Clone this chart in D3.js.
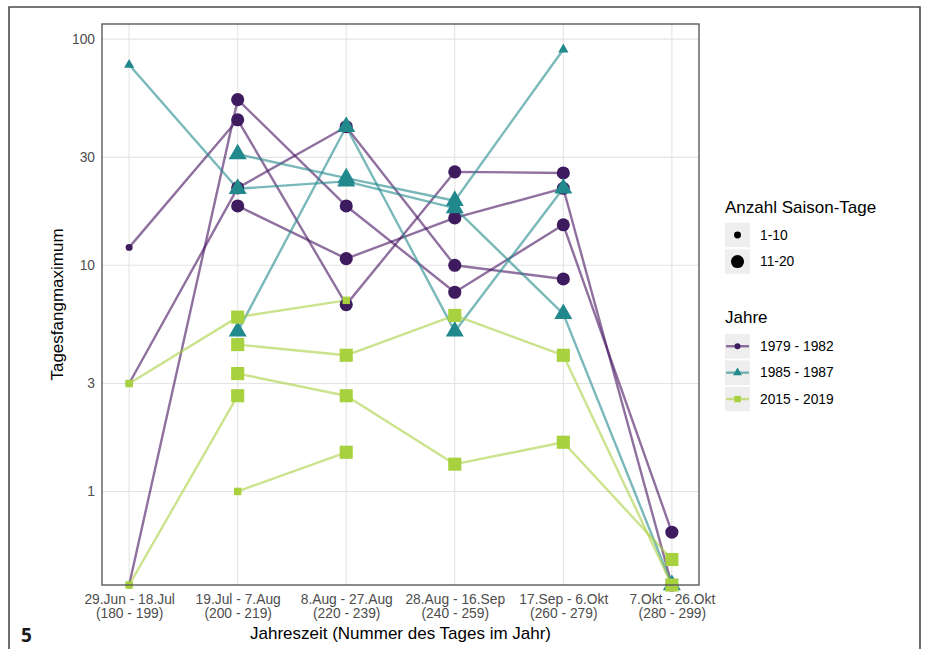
<!DOCTYPE html>
<html>
<head>
<meta charset="utf-8">
<script src="https://cdn.jsdelivr.net/npm/d3@7"></script>
<style>
  html, body { margin: 0; padding: 0; background: #ffffff; }
  svg { display: block; font-family: "Liberation Sans", Arial, sans-serif; }
</style>
</head>
<body>
<svg id="chart" width="929" height="649"></svg>
<script>
// ---------------- data ----------------
const xLabelsTop = ["29.Jun - 18.Jul", "19.Jul - 7.Aug", "8.Aug - 27.Aug", "28.Aug - 16.Sep", "17.Sep - 6.Okt", "7.Okt - 26.Okt"];
const xLabelsBottom = ["(180 - 199)", "(200 - 219)", "(220 - 239)", "(240 - 259)", "(260 - 279)", "(280 - 299)"];
const dayStart = [180, 200, 220, 240, 260, 280];
const yTicks = [1, 3, 10, 30, 100];
const groupNames = ["1979 - 1982", "1985 - 1987", "2015 - 2019"];
const sizeNames = ["1-10", "11-20"];

// values per season window (null = no data); 0 = drawn at panel bottom
// sizes: 1 = "1-10" season days, 2 = "11-20" season days
const purple1 = [0, 54, 18.3, 7.6, 15.1, 0.66];
const purple1Size = [1, 2, 2, 2, 2, 2];
const purple2 = [12, 44, 6.7, 25.9, 25.6, null];
const purple2Size = [1, 2, 2, 2, 2, null];
const purple3 = [3, 22, 41, 10, 8.7, null];
const purple3Size = [1, 2, 2, 2, 2, null];
const purple4 = [null, 18.3, 10.7, 16.2, 21.9, 0];
const purple4Size = [null, 2, 2, 2, 2, 2];

const teal1 = [77, 21.8, 23.5, 17.9, 6.1, 0];
const teal1Size = [1, 2, 2, 2, 2, 2];
const teal2 = [null, 31, 24.3, 19.3, 90, null];
const teal2Size = [null, 2, 2, 2, 1, null];
const teal3 = [null, 5.1, 41, 5.1, 21.9, null];
const teal3Size = [null, 2, 2, 2, 2, null];

const green1 = [3, 5.9, 7.0, null, null, null];
const green1Size = [1, 2, 1, null, null, null];
const green2 = [null, 4.46, 4.0, 6.0, 4.0, 0];
const green2Size = [null, 2, 2, 2, 2, 2];
const green3 = [null, 3.32, 2.65, 1.32, 1.65, 0.5];
const green3Size = [null, 2, 2, 2, 2, 2];
const green4 = [0, 2.65, null, null, null, null];
const green4Size = [1, 2, null, null, null, null];
const green5 = [null, 1.0, 1.49, null, null, null];
const green5Size = [null, 1, 2, null, null, null];

const groupColors = ["#3e1a5e", "#21888C", "#A8D13F"];
const lineColors = ["#45105f", "#21888C", "#A8D13F"];
const groupShapes = [d3.symbolCircle, d3.symbolTriangle, d3.symbolSquare];

const series = [
  {g: 0, v: purple1, s: purple1Size}, {g: 0, v: purple2, s: purple2Size},
  {g: 0, v: purple3, s: purple3Size}, {g: 0, v: purple4, s: purple4Size},
  {g: 1, v: teal1, s: teal1Size}, {g: 1, v: teal2, s: teal2Size}, {g: 1, v: teal3, s: teal3Size},
  {g: 2, v: green1, s: green1Size}, {g: 2, v: green2, s: green2Size}, {g: 2, v: green3, s: green3Size},
  {g: 2, v: green4, s: green4Size}, {g: 2, v: green5, s: green5Size}
];

// ---------------- layout ----------------
const svg = d3.select("#chart");
const W = 929, H = 649;
const panel = {left: 102, right: 699, top: 24, bottom: 585};

// outer frame
svg.append("path")
  .attr("d", `M9,${H} V7 H920 V${H}`)
  .attr("fill", "none").attr("stroke", "#4a4a4a").attr("stroke-width", 1.6);

// scales
const x = d3.scaleLinear()
  .domain([dayStart[0] - 0.05 * (dayStart[5] - dayStart[0]), dayStart[5] + 0.05 * (dayStart[5] - dayStart[0])])
  .range([panel.left, panel.right]);

const positives = series.flatMap(d => d.v).filter(v => v != null && v > 0);
const lo = Math.log10(d3.min(positives)), hi = Math.log10(d3.max(positives));
const pad = (hi - lo) * 0.05;
const y = d3.scaleLog()
  .domain([Math.pow(10, lo - pad), Math.pow(10, hi + pad)])
  .range([panel.bottom, panel.top])
  .clamp(true);
const yPos = v => v <= 0 ? y.range()[0] : y(v);

// grid
const grid = svg.append("g");
grid.selectAll("line.h").data(yTicks).join("line")
  .attr("x1", panel.left).attr("x2", panel.right)
  .attr("y1", d => y(d)).attr("y2", d => y(d))
  .attr("stroke", "#e4e4e4").attr("stroke-width", 1.1);
grid.selectAll("line.v").data(dayStart).join("line")
  .attr("x1", d => x(d)).attr("x2", d => x(d))
  .attr("y1", panel.top).attr("y2", panel.bottom)
  .attr("stroke", "#e4e4e4").attr("stroke-width", 1.1);

// axes (labels only, via d3 axis)
const yAxis = svg.append("g").attr("transform", `translate(${panel.left},0)`)
  .call(d3.axisLeft(y).tickValues(yTicks).tickFormat(d3.format("d")).tickSize(0).tickPadding(7));
yAxis.select(".domain").remove();
yAxis.selectAll("text").attr("fill", "#4d4d4d").style("font-size", "13.8px")
  .style("font-family", "'Liberation Sans', Arial, sans-serif");

const xAxis = svg.append("g").attr("transform", `translate(0,${panel.bottom})`)
  .call(d3.axisBottom(x).tickValues(dayStart).tickFormat("").tickSize(0));
xAxis.select(".domain").remove();
xAxis.selectAll(".tick").each(function(d, i) {
  const t = d3.select(this).append("text")
    .attr("fill", "#4d4d4d").attr("text-anchor", "middle")
    .style("font-size", "13.8px").style("font-family", "'Liberation Sans', Arial, sans-serif");
  t.append("tspan").attr("x", 0).attr("y", 19).text(xLabelsTop[i]);
  t.append("tspan").attr("x", 0).attr("y", 33).text(xLabelsBottom[i]);
});

// axis titles
svg.append("text")
  .attr("transform", `translate(63,${(panel.top + panel.bottom) / 2}) rotate(-90)`)
  .attr("text-anchor", "middle").attr("fill", "#000")
  .style("font-size", "17px").text("Tagesfangmaximum");
svg.append("text")
  .attr("x", (panel.left + panel.right) / 2).attr("y", 639)
  .attr("text-anchor", "middle").attr("fill", "#000")
  .style("font-size", "17px").text("Jahreszeit (Nummer des Tages im Jahr)");

// figure number
svg.append("text").attr("x", 21).attr("y", 642)
  .style("font-size", "19px").style("font-weight", "bold").attr("fill", "#1a1a1a")
  .style("font-family", "'Open Sans', 'Liberation Sans', Arial, sans-serif")
  .text("5");

const plot = svg.append("g");

// lines
const line = d3.line()
  .defined(d => d.v != null)
  .x(d => x(d.day))
  .y(d => yPos(d.v));
series.forEach(sr => {
  const pts = sr.v.map((v, i) => ({v, day: dayStart[i]}));
  plot.append("path").datum(pts)
    .attr("d", line)
    .attr("fill", "none")
    .attr("stroke", lineColors[sr.g])
    .attr("stroke-opacity", 0.6)
    .attr("stroke-width", 2.4)
    .attr("stroke-linejoin", "round");
});

// marker sizes (symbol area) per group & size class
const symbolArea = [
  {1: 38, 2: 135},   // circles
  {1: 45, 2: 140},   // triangles
  {1: 56, 2: 172}    // squares
];

series.forEach(sr => {
  sr.v.forEach((v, i) => {
    if (v == null) return;
    plot.append("path")
      .attr("d", d3.symbol().type(groupShapes[sr.g]).size(symbolArea[sr.g][sr.s[i]])())
      .attr("transform", `translate(${x(dayStart[i])},${yPos(v)})`)
      .attr("fill", groupColors[sr.g]);
  });
});

// panel border
svg.append("rect")
  .attr("x", panel.left).attr("y", panel.top)
  .attr("width", panel.right - panel.left).attr("height", panel.bottom - panel.top)
  .attr("fill", "none").attr("stroke", "#5a5a5a").attr("stroke-width", 1.4);

// ---------------- legends ----------------
const lg = svg.append("g").attr("transform", "translate(725,0)");
const keyW = 25, keyH = 24.5;

lg.append("text").attr("x", 0).attr("y", 212.5).style("font-size", "17px").attr("fill", "#000")
  .text("Anzahl Saison-Tage");
sizeNames.forEach((name, i) => {
  const ky = 222.7 + i * 26.6;
  lg.append("rect").attr("x", 0).attr("y", ky).attr("width", keyW).attr("height", keyH).attr("fill", "#eeeeee");
  lg.append("path")
    .attr("d", d3.symbol().type(d3.symbolCircle).size(symbolArea[0][i + 1])())
    .attr("transform", `translate(${keyW / 2},${ky + keyH / 2})`).attr("fill", "#000");
  lg.append("text").attr("x", 35).attr("y", ky + keyH / 2 + 4.8)
    .style("font-size", "13.8px").attr("fill", "#000").text(name);
});

lg.append("text").attr("x", 0).attr("y", 323.3).style("font-size", "17px").attr("fill", "#000")
  .text("Jahre");
groupNames.forEach((name, i) => {
  const ky = 334 + i * 26.4;
  lg.append("rect").attr("x", 0).attr("y", ky).attr("width", keyW).attr("height", keyH).attr("fill", "#eeeeee");
  lg.append("line").attr("x1", 1).attr("x2", keyW - 1)
    .attr("y1", ky + keyH / 2).attr("y2", ky + keyH / 2)
    .attr("stroke", lineColors[i]).attr("stroke-opacity", 0.6).attr("stroke-width", 2.4);
  lg.append("path")
    .attr("d", d3.symbol().type(groupShapes[i]).size(symbolArea[i][1] * 0.75)())
    .attr("transform", `translate(${keyW / 2},${ky + keyH / 2})`).attr("fill", groupColors[i]);
  lg.append("text").attr("x", 35).attr("y", ky + keyH / 2 + 4.8)
    .style("font-size", "13.8px").attr("fill", "#000").text(name);
});
</script>
</body>
</html>
